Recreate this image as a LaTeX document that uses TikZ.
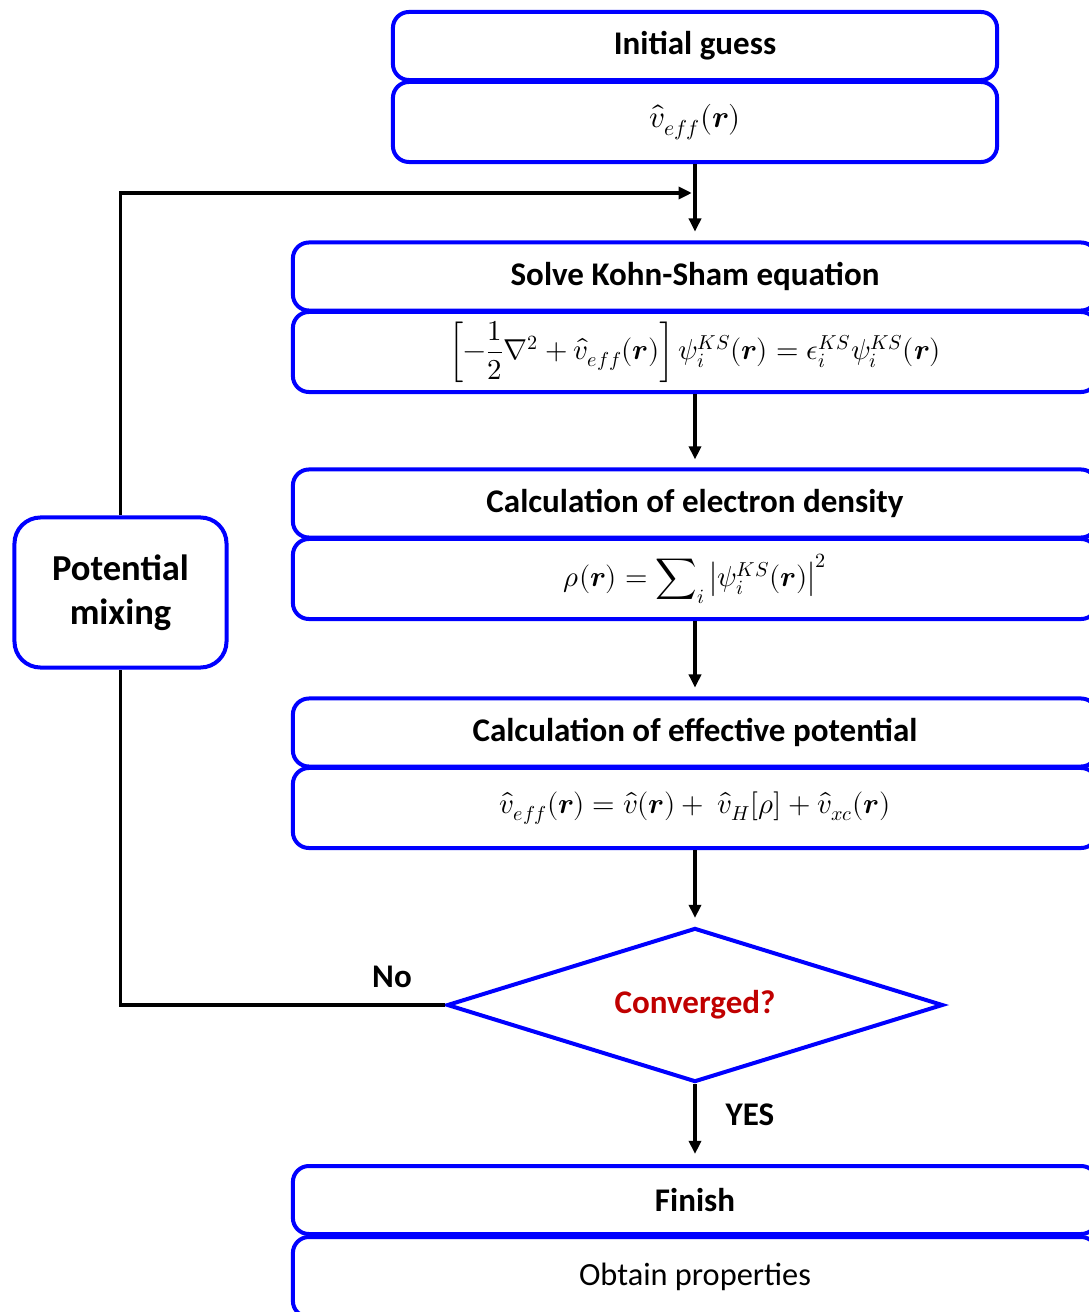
\documentclass[tikz,border=0pt]{standalone}
\usepackage{amsmath}
\usepackage{fontspec}
\usepackage{unicode-math}
\setmainfont{Carlito}
\setmathfont{Latin Modern Math}
\usepackage{xcolor}
\usepackage{tikz}
\usetikzlibrary{arrows.meta}
\usetikzlibrary{positioning,shapes.geometric}
\definecolor{ksblue}{RGB}{0,0,255}
\definecolor{ksred}{RGB}{192,0,0}
\tikzset{
	headnode/.style={rectangle, rounded corners=0.4cm, draw=ksblue, line width=0.1cm, minimum height=1.7cm, font=\fontsize{23.5}{28}\selectfont\bfseries},
	bodynode/.style={rectangle, rounded corners=0.4cm, draw=ksblue, line width=0.1cm, minimum height=2cm, font=\fontsize{23}{27}\selectfont},
	eqnode/.style={bodynode, font=\fontsize{20.5}{24}\selectfont}
}
\tikzset{
	mixnode/.style={rectangle, rounded corners=0.65cm, draw=ksblue, line width=0.1cm, minimum width=5.3cm, minimum height=3.75cm, align=center, font=\fontsize{26}{31}\selectfont\bfseries},
	decnode/.style={diamond, draw=ksblue, line width=0.1cm, aspect=3.2, minimum width=12.4cm, minimum height=3.85cm, inner sep=0pt, text=ksred, font=\fontsize{23.5}{28}\selectfont\bfseries},
	flow/.style={-{Triangle[length=0.33cm,width=0.3cm]}, line width=0.09cm},
	lbl/.style={font=\fontsize{23.5}{28}\selectfont\bfseries}
}

\begin{document}
\begin{tikzpicture}[x=0.025cm, y=-0.025cm]
	\useasboundingbox (0,0) rectangle (1088,1312);
	
	\node[headnode, minimum width=15.1cm] at (695,46) (init) {Initial guess};
	\node[eqnode, minimum width=15.1cm, font=\fontsize{22}{26}\selectfont] at (695,122) (initv) {$\hat{v}_{eff}(\symbfit{r})$};
	
	\node[headnode, minimum width=20.1cm] at (695,276.5) (ks) {Solve Kohn-Sham equation};
	\node[eqnode, minimum width=20.1cm] at (695,352) (kseq) {$\left[-\dfrac{1}{2}\nabla^2+\hat{v}_{eff}(\symbfit{r})\right]\psi_i^{KS}(\symbfit{r})=\epsilon_i^{KS}\psi_i^{KS}(\symbfit{r})$};
	
	\node[headnode, minimum width=20.1cm] at (695,503.5) (dens) {Calculation of electron density};
	\node[eqnode, minimum width=20.1cm] at (695,579) (denseq) {$\rho(\symbfit{r})=\displaystyle\sum\nolimits_i\left|\psi_i^{KS}(\symbfit{r})\right|^2$};
	
	\node[headnode, minimum width=20.1cm] at (695,732.5) (pot) {Calculation of effective potential};
	\node[eqnode, minimum width=20.1cm] at (695,808) (poteq) {$\hat{v}_{eff}(\symbfit{r})=\hat{v}(\symbfit{r})+\ \hat{v}_H[\rho]+\hat{v}_{xc}(\symbfit{r})$};
	
	\node[decnode] at (695,1005) (conv) {\raisebox{-3pt}{Converged?}};
	
	\node[headnode, minimum width=20.1cm] at (695,1200) (fin) {Finish};
	\node[bodynode, minimum width=20.1cm] at (695,1277) (props) {Obtain properties};
	
	\node[mixnode] at (120.5,592.5) (mix) {Potential\\mixing};
	
	\coordinate (join) at (695,193);
	
	\draw[flow, shorten >=0.22cm] (initv.south) -- (ks.north);
	\draw[flow, shorten >=0.2cm] (kseq.south) -- (dens.north);
	\draw[flow, shorten >=0.22cm] (denseq.south) -- (pot.north);
	\draw[flow, shorten >=0.2cm] (poteq.south) -- (conv.north);
	\draw[flow, shorten >=0.25cm] (conv.south) -- (fin.north);
	\draw[flow, shorten >=0.08cm] (mix.north) |- (join);
	\draw[line width=0.09cm] (conv.west) -| (mix.south);
	
	\node[lbl] at (392,977) (no) {No};
	\node[lbl] at (750,1115) (yes) {YES};
\end{tikzpicture}
\end{document}
